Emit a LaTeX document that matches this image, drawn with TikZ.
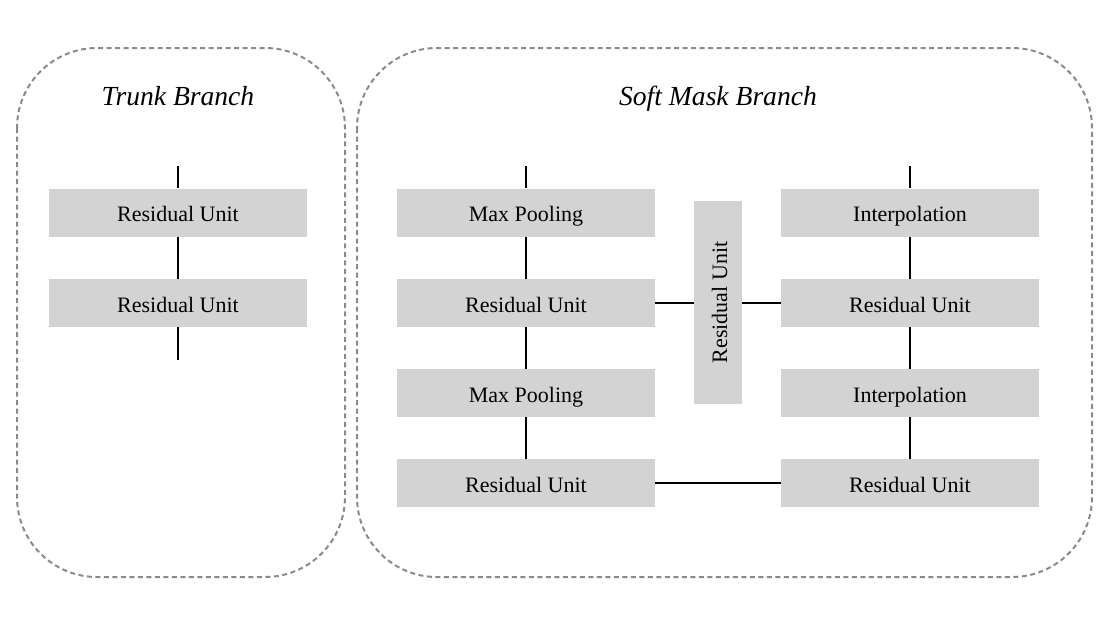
\documentclass[tikz,border=0pt]{standalone}
\usepackage{fontspec}
\setmainfont{Liberation Serif}
\begin{document}
\begin{tikzpicture}[x=1pt,y=-1pt,
  unitbox/.style={fill=boxgray,draw=none,inner sep=0pt,minimum width=258pt,minimum height=48pt,text height=20pt,text depth=2pt,font=\fontsize{22}{26}\selectfont},
  vbox/.style={fill=boxgray,draw=none,inner sep=0pt,minimum width=48pt,minimum height=203pt},
  vtext/.style={rotate=90,inner sep=0pt,text height=20pt,text depth=2pt,font=\fontsize{22}{26}\selectfont},
  branch/.style={draw=dashgray,line width=2pt,dash pattern=on 5pt off 3.5pt,rounded corners=80pt},
  conn/.style={line width=2pt,black},
  title/.style={anchor=base,font=\fontsize{27.6}{32}\selectfont\itshape}]
\definecolor{boxgray}{HTML}{D3D3D3}
\definecolor{dashgray}{HTML}{8A8A8A}
\useasboundingbox (0,0) rectangle (1106,627);
\fill[white] (0,0) rectangle (1106,627);
% containers
\draw[branch] (17,48) rectangle (345,577);
\draw[branch] (357,48) rectangle (1092,577);
\node[title] (t1) at (178,105) {Trunk Branch};
\node[title] (t2) at (718,105) {Soft Mask Branch};
% trunk
\node[unitbox] (tr1) at (178,212.5) {Residual Unit};
\node[unitbox] (tr2) at (178,303) {Residual Unit};
\coordinate (trin) at (178,166);
\coordinate (trout) at (178,360);
\draw[conn] (trin) -- (tr1.north);
\draw[conn] (tr1.south) -- (tr2.north);
\draw[conn] (tr2.south) -- (trout);
% soft mask left column
\node[unitbox] (mp1) at (526,212.5) {Max Pooling};
\node[unitbox] (ru1) at (526,303) {Residual Unit};
\node[unitbox] (mp2) at (526,393) {Max Pooling};
\node[unitbox] (ru2) at (526,483) {Residual Unit};
% middle
\node[vbox] (mid) at (718,302.5) {};
\node[vtext] (midt) at (mid.center) {Residual Unit};
% right column
\node[unitbox] (ip1) at (910,212.5) {Interpolation};
\node[unitbox] (ru3) at (910,303) {Residual Unit};
\node[unitbox] (ip2) at (910,393) {Interpolation};
\node[unitbox] (ru4) at (910,483) {Residual Unit};
\coordinate (smin) at (526,166);
\coordinate (smout) at (910,166);
\draw[conn] (smin) -- (mp1.north);
\draw[conn] (mp1.south) -- (ru1.north);
\draw[conn] (ru1.south) -- (mp2.north);
\draw[conn] (mp2.south) -- (ru2.north);
\draw[conn] (ru1.east) -- (mid.west |- ru1.east);
\draw[conn] (mid.east |- ru3.west) -- (ru3.west);
\draw[conn] (ru2.east) -- (ru4.west);
\draw[conn] (ru4.north) -- (ip2.south);
\draw[conn] (ip2.north) -- (ru3.south);
\draw[conn] (ru3.north) -- (ip1.south);
\draw[conn] (ip1.north) -- (smout);
\end{tikzpicture}
\end{document}
